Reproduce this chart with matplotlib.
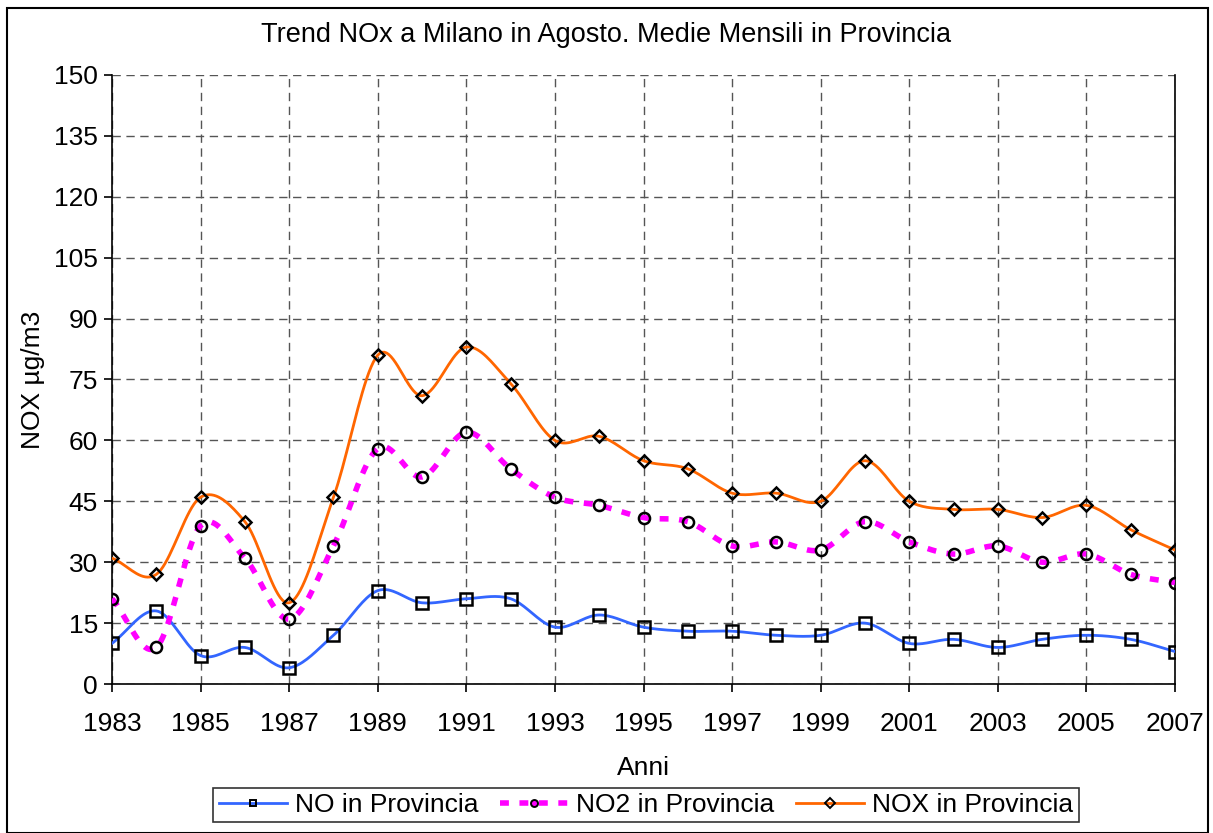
import numpy as np
import matplotlib.pyplot as plt
from matplotlib.patches import Rectangle

plt.rcParams['font.family'] = ['Liberation Sans', 'DejaVu Sans']

years = list(range(1983, 2008))
no_prov = [10, 18, 7, 9, 4, 12, 23, 20, 21, 21, 14, 17, 14, 13, 13, 12, 12, 15, 10, 11, 9, 11, 12, 11, 8]
no2_prov = [21, 9, 39, 31, 16, 34, 58, 51, 62, 53, 46, 44, 41, 40, 34, 35, 33, 40, 35, 32, 34, 30, 32, 27, 25]
nox_prov = [31, 27, 46, 40, 20, 46, 81, 71, 83, 74, 60, 61, 55, 53, 47, 47, 45, 55, 45, 43, 43, 41, 44, 38, 33]


def smooth(x, y, n=20):
    # Catmull-Rom spline, similar to Excel's smoothed lines
    x = np.asarray(x, float)
    y = np.asarray(y, float)
    px = np.concatenate([[2 * x[0] - x[1]], x, [2 * x[-1] - x[-2]]])
    py = np.concatenate([[2 * y[0] - y[1]], y, [2 * y[-1] - y[-2]]])
    xs, ys = [], []
    t = np.linspace(0, 1, n, endpoint=False)
    for i in range(1, len(px) - 2):
        for p, out in ((px, xs), (py, ys)):
            p0, p1, p2, p3 = p[i - 1], p[i], p[i + 1], p[i + 2]
            out.extend(0.5 * (2 * p1 + (-p0 + p2) * t
                              + (2 * p0 - 5 * p1 + 4 * p2 - p3) * t ** 2
                              + (-p0 + 3 * p1 - 3 * p2 + p3) * t ** 3))
    xs.append(x[-1])
    ys.append(y[-1])
    return np.array(xs), np.array(ys)


W, H = 1213, 833
fig = plt.figure(figsize=(W / 100, H / 100), dpi=100)
# outer chart border
fig.patches.append(Rectangle((7 / W, 0), 1201 / W, 1 - 8 / H, transform=fig.transFigure,
                             fill=False, edgecolor='black', linewidth=1.5))
ax = fig.add_axes([112 / W, 1 - 684 / H, (1175 - 112) / W, (684 - 75) / H])

FS = 19
series = [
    (no_prov, '#3366FF', '-', 's', 2, 8, 'NO in Provincia'),
    (no2_prov, '#FF00FF', (0, (1.6, 1.9)), 'o', 4, 8, 'NO2 in Provincia'),
    (nox_prov, '#FF6600', '-', 'D', 2, 6.5, 'NOX in Provincia'),
]
for vals, col, ls, mk, lw, ms, lab in series:
    sx, sy = smooth(years, vals)
    ax.plot(sx, sy, color=col, linestyle=ls, linewidth=lw, zorder=3)
    ax.plot(years, vals, linestyle='none', marker=mk, markersize=ms,
            markerfacecolor='none', markeredgecolor='black', markeredgewidth=1.8, zorder=4)
    ax.plot([], [], color=col, linestyle=ls, linewidth=lw, marker=mk, markersize=5,
            markerfacecolor=col if mk == 'o' else 'none', markeredgecolor='black',
            markeredgewidth=1.4, label=lab)

ax.set_xlim(1983, 2007)
ax.set_ylim(0, 150)
ax.set_xticks(years[::2])
ax.set_yticks(range(0, 151, 15))
ax.tick_params(axis='both', labelsize=FS, direction='out', length=6, width=1.2)
ax.tick_params(axis='x', pad=14)
ax.tick_params(axis='y', pad=4)
ax.grid(True, axis='both', linestyle=(0, (6, 4)), color='#555555', linewidth=1)
ax.spines['top'].set_visible(False)
for s in ['left', 'bottom', 'right']:
    ax.spines[s].set_linewidth(1.2)

fig.text(606 / W, 1 - 35 / H, 'Trend NOx a Milano in Agosto. Medie Mensili in Provincia',
         fontsize=19.5, ha='center', va='center')
fig.text(643 / W, 1 - 768 / H, 'Anni', fontsize=FS, ha='center', va='center')
fig.text(33 / W, 1 - 380 / H, 'NOX µg/m3', fontsize=FS, ha='center', va='center', rotation=90)

leg = fig.legend(loc='center', bbox_to_anchor=(646 / W, 1 - 805 / H), ncol=3, fontsize=FS,
                 frameon=True, fancybox=False, edgecolor='black', handlelength=2.6,
                 columnspacing=0.8, handletextpad=0.3, borderpad=0.2, borderaxespad=0)
leg.get_frame().set_linewidth(1.2)

fig.savefig('out.png', dpi=100)
